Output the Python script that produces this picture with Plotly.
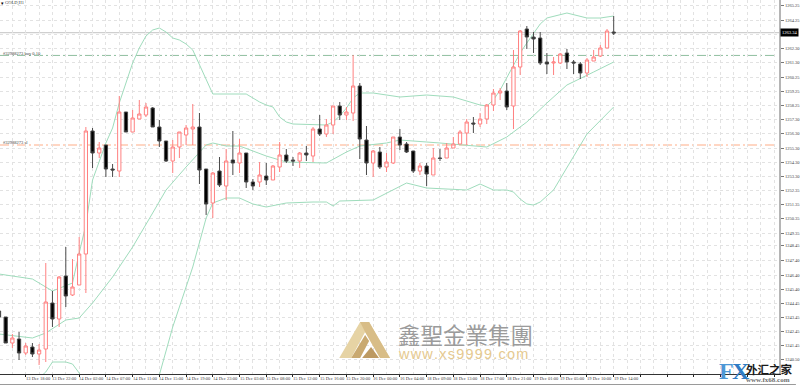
import plotly.graph_objects as go

# ---- candles (index -1 .. 91) ----
opens = [1243.89,1243.47,1241.65,1241.93,1240.95,1241.37,1240.88,1241.23,1244.45,1243.33,1246.34,1245.01,1245.71,1247.88,
 1256.49,1254.95,1255.51,1253.83,1253.69,1257.82,1256.42,1257.33,1257.61,1258.10,1256.77,1255.79,1254.39,1255.37,1256.21,
 1256.63,1256.77,1253.83,1251.45,1253.69,1252.64,1254.46,1254.25,1254.95,1252.92,1252.92,1253.34,1253.06,1253.97,1254.81,
 1254.46,1254.39,1254.95,1254.74,1256.63,1256.28,1256.91,1258.24,1257.61,1257.75,1259.64,1255.86,1254.25,1255.02,1253.97,
 1254.25,1256.07,1255.58,1255.09,1253.69,1254.04,1253.41,1254.60,1254.60,1255.30,1255.58,1256.35,1257.05,1256.98,1257.33,
 1258.31,1259.15,1259.29,1258.24,1260.97,1263.63,1263.07,1263.00,1261.32,1261.25,1261.25,1261.95,1261.32,1261.18,1260.55,
 1261.39,1261.74,1262.30,1263.42]
closes = [1243.47,1241.65,1242.00,1240.95,1241.44,1240.88,1241.16,1244.52,1243.33,1246.27,1244.94,1245.57,1247.88,1256.49,
 1254.95,1255.30,1253.83,1253.76,1257.82,1256.42,1257.40,1257.68,1258.17,1256.77,1255.79,1254.39,1255.37,1256.42,1256.70,
 1256.77,1253.76,1251.38,1253.55,1252.71,1254.39,1254.25,1254.95,1252.92,1252.64,1253.41,1253.06,1254.04,1254.81,1254.39,
 1254.39,1254.95,1254.81,1256.63,1256.28,1256.91,1258.24,1257.61,1257.82,1259.64,1255.93,1254.25,1255.09,1253.97,1254.32,
 1256.07,1255.51,1255.02,1253.69,1254.04,1253.48,1254.60,1254.57,1255.30,1255.58,1256.42,1257.12,1256.98,1257.33,1258.31,
 1259.15,1259.29,1258.17,1260.97,1263.49,1263.07,1262.93,1261.25,1261.18,1261.32,1261.88,1261.32,1261.25,1260.55,1261.46,
 1261.67,1262.30,1263.49,1263.35]
highs = [1243.89,1243.47,1242.28,1242.42,1241.65,1241.65,1241.58,1247.25,1245.29,1246.34,1248.37,1247.53,1249.07,1256.77,
 1256.70,1255.72,1255.51,1254.18,1258.94,1257.82,1257.96,1258.66,1258.45,1258.17,1257.26,1255.79,1255.86,1256.42,1256.91,
 1258.38,1257.75,1253.83,1253.62,1254.67,1255.23,1256.49,1255.93,1254.95,1253.13,1254.32,1254.25,1254.11,1255.72,1255.23,
 1254.67,1255.02,1255.44,1256.77,1257.61,1257.33,1258.24,1258.52,1258.17,1261.81,1259.85,1256.84,1255.16,1255.37,1254.95,
 1256.07,1256.63,1255.72,1255.09,1254.25,1254.25,1255.30,1255.23,1255.65,1256.07,1256.56,1257.33,1257.47,1257.75,1258.38,
 1259.43,1259.50,1259.85,1262.16,1263.56,1263.84,1263.42,1263.42,1261.95,1261.67,1261.95,1262.23,1261.46,1261.32,1261.60,
 1262.16,1262.51,1263.63,1264.54]
lows = [1243.47,1241.65,1241.30,1240.46,1240.81,1240.67,1240.11,1240.32,1242.77,1242.77,1244.17,1244.94,1245.71,1245.15,
 1253.90,1254.60,1253.27,1253.27,1253.27,1256.42,1256.42,1257.33,1257.47,1256.77,1255.37,1254.32,1253.55,1254.60,1255.51,
 1255.51,1252.78,1250.61,1250.40,1252.57,1251.66,1253.41,1253.55,1252.50,1252.36,1252.57,1252.71,1253.06,1253.62,1254.25,
 1254.04,1253.90,1254.39,1254.32,1256.14,1256.07,1256.28,1257.26,1257.26,1257.19,1254.53,1253.41,1253.27,1253.83,1253.62,
 1254.18,1255.16,1254.95,1253.55,1253.41,1252.64,1253.41,1254.39,1254.60,1255.30,1255.58,1255.51,1256.35,1256.77,1256.98,
 1257.89,1258.66,1257.96,1256.63,1260.41,1262.23,1261.95,1261.11,1260.48,1260.41,1261.18,1260.83,1260.48,1260.13,1260.27,
 1261.39,1261.67,1262.30,1263.21]
candle_index = list(range(-1, 92))

# ---- Bollinger bands ----
upper_index = [-1,4,7,10,11,12,13,14,15,16,17,18,19,20,21,22,23,24,25,26,27,28,29,30,31,36,37,38,39,40,41,42,43,46,48,49,50,51,52,53,55,59,63,67,71,72,73,74,76,77,78,79,80,81,84,87,89,91]
upper_values = [1246.48,1246.13,1245.29,1245.85,1247.95,1249.91,1253.06,1254.32,1255.65,1256.70,1258.45,1259.85,1261.25,1262.30,1263.14,1263.56,1263.70,1263.42,1263.00,1262.86,1262.58,1262.16,1261.11,1260.06,1259.08,1259.08,1258.80,1258.52,1258.31,1258.17,1257.47,1257.12,1256.98,1256.91,1256.91,1257.12,1257.54,1258.10,1258.80,1259.15,1259.15,1258.87,1259.01,1258.87,1258.31,1258.24,1258.66,1259.36,1261.11,1261.95,1262.65,1263.35,1263.98,1264.40,1264.75,1264.40,1264.40,1264.54]
middle_index = [-1,4,6,9,11,13,16,19,22,24,27,30,31,33,35,39,42,48,51,53,57,59,65,69,72,75,78,81,84,88,91]
middle_values = [1242.28,1242.00,1242.35,1243.26,1243.40,1244.45,1246.27,1248.37,1250.75,1252.36,1253.97,1255.51,1255.65,1255.44,1255.44,1254.74,1254.32,1254.25,1255.02,1255.44,1255.65,1255.86,1255.65,1255.51,1255.37,1256.07,1257.12,1258.45,1259.71,1260.62,1261.32]
lower_index = [5,6,7,9,10,11,12,18,23,25,28,30,31,33,35,37,39,42,46,48,49,50,55,58,60,63,69,71,73,75,76,77,78,79,80,82,87,91]
lower_values = [1239.20,1239.62,1240.32,1240.32,1240.18,1239.55,1238.71,1234.86,1239.41,1242.77,1246.97,1250.40,1251.45,1251.80,1251.80,1251.38,1251.17,1251.45,1251.52,1251.52,1251.24,1251.59,1251.66,1252.36,1252.85,1252.50,1252.36,1252.78,1252.36,1252.36,1252.22,1251.73,1251.38,1251.31,1251.52,1252.36,1256.28,1258.17]

# ---- levels ----
current_price = 1263.38
current_label = "1263.34"
order_tp = 1261.78
order_sl = 1255.51

# ---- axes text ----
y_ticks = [1265.25,1264.25,1263.25,1262.30,1261.30,1260.25,1259.25,1258.25,1257.30,1256.30,1255.30,1254.30,1253.30,1252.35,1251.35,1250.35,1249.35,1248.45,1247.40,1246.40,1245.40,1244.45,1243.45,1242.45,1241.45,1240.50]
y_hidden_by_tag = 1263.25
x_tick_labels = ["13 Dec 2017","13 Dec 18:00","13 Dec 22:00","14 Dec 02:00","14 Dec 07:00","14 Dec 11:00","14 Dec 15:00","14 Dec 19:00","14 Dec 23:00","15 Dec 03:00","15 Dec 08:00","15 Dec 12:00","15 Dec 16:00","15 Dec 20:00","16 Dec 00:00","16 Dec 04:00","18 Dec 09:00","18 Dec 13:00","18 Dec 17:00","18 Dec 21:00","19 Dec 01:00","19 Dec 05:00","19 Dec 10:00","19 Dec 14:00"]
x_tick_index = [-1] + list(range(3, 92, 4))

# ---- page geometry ----
W, H = 800, 385
ML, MR, MT, MB = 0, 17, 0, 11
PW, PH = W - ML - MR, H - MT - MB
X_RANGE = [-0.85, 115.74]
Y_RANGE = [1239.48, 1265.66]
GRID = "#e2e2e2"
BAND = "#9fdcbc"
UP = "#ff8080"
DOWN = "#000000"
SMALL = 4.5
TXT = "#404040"
FONT = "Liberation Sans Narrow"

def px(x):
    return x / PW
def py(y):
    return (PH - y) / PH
def poly(points, color):
    path = "M " + " L ".join(f"{px(a):.5f},{py(b):.5f}" for a, b in points) + " Z"
    return dict(type="path", path=path, xref="paper", yref="paper", fillcolor=color, line=dict(width=0), layer="above")

fig = go.Figure()
for xs, ys in [(upper_index, upper_values), (middle_index, middle_values), (lower_index, lower_values)]:
    fig.add_trace(go.Scatter(x=xs, y=ys, mode="lines", line=dict(color=BAND, width=1), hoverinfo="skip", showlegend=False))

fig.add_trace(go.Candlestick(
    x=candle_index, open=opens, high=highs, low=lows, close=closes,
    xaxis="x2", yaxis="y2", whiskerwidth=0, showlegend=False,
    increasing=dict(line=dict(color=UP, width=1), fillcolor="#ffffff"),
    decreasing=dict(line=dict(color="#4a4a4a", width=1), fillcolor=DOWN),
))

shapes = [
    dict(type="line", xref="paper", yref="y", x0=0, x1=1, y0=current_price, y1=current_price,
         line=dict(color="#cfcfcf", width=1.3), layer="below"),
    dict(type="line", xref="paper", yref="y", x0=0, x1=0.996, y0=order_tp, y1=order_tp,
         line=dict(color="#8fbf9f", width=1, dash="9px,3px,2px,3px"), layer="below"),
    dict(type="line", xref="paper", yref="y", x0=0, x1=0.996, y0=order_sl, y1=order_sl,
         line=dict(color="#ffc9b0", width=1.6, dash="9px,3px,2px,3px"), layer="below"),
    # bottom page strip
    dict(type="line", xref="paper", yref="paper", x0=0, x1=W / PW, y0=py(384.5), y1=py(384.5),
         line=dict(color="#9a9a9a", width=1), layer="above"),
    # gold logo
    poly([(341, 358), (362, 322), (371, 322), (392, 358), (382, 358), (367, 332), (353, 358)], "#e6d3a4"),
    poly([(362, 322), (371, 322), (392, 358), (382, 358), (367, 332)], "#d8bd87"),
    poly([(353, 358), (367, 335), (371, 341), (362, 358)], "#c9a970"),
    poly([(364, 358), (373, 347), (381, 358)], "#bd9a62"),
]

ann = []
for i, label in zip(x_tick_index, x_tick_labels):
    ann.append(dict(x=i, xref="x", y=0, yref="paper", text=label, showarrow=False, xanchor="left", yanchor="top",
                    xshift=-3 if i < 0 else -1, yshift=-1, borderpad=0, font=dict(family=FONT, size=SMALL, color=TXT)))
def note(x, y, text, size, color, family=FONT, anchor="left"):
    ann.append(dict(x=px(x), xref="paper", y=py(y), yref="paper", text=text, showarrow=False, xanchor=anchor,
                    yanchor="middle", borderpad=0, font=dict(family=family, size=size, color=color)))
note(4, 3, "GOLD,H1", SMALL, TXT)
note(0.5, 3, "▾", 5, "#000000")
note(2, 53, "#32988273 buy 0.10", SMALL, TXT)
note(2, 142, "#32988273 sl", SMALL, TXT)
note(399, 333.5, "鑫聖金業集團", 22.5, "#9b9b9b", "Noto Sans CJK TC")
note(399, 354, "\u200a".join("www.xs9999.com"), 14.5, "#e5c98f", "Liberation Sans")
note(722, 371, "<b>F</b>", 24, "#4d97d6", "Liberation Sans Narrow")
note(734.5, 371, "<b>X</b>", 24, "#2f7cc4", "Liberation Sans Narrow")
note(748.5, 369, "<b>外汇之家</b>", 11.5, "#1a1a1a", "Noto Sans CJK SC")
note(749, 379.5, "<b>www.fx68.com</b>", 7, "#6e6e6e", "Liberation Serif")
ann.append(dict(x=1, xref="paper", xanchor="left", xshift=1, y=current_price, yref="y", yanchor="middle",
                text=current_label, showarrow=False, bgcolor="#000000", borderpad=1,
                font=dict(family=FONT, size=SMALL, color="#ffffff")))

axis_common = dict(showgrid=True, gridcolor=GRID, griddash="dot", gridwidth=1, zeroline=False)
fig.update_layout(
    width=W, height=H, margin=dict(l=ML, r=MR, t=MT, b=MB), paper_bgcolor="#ffffff", plot_bgcolor="#ffffff",
    showlegend=False, hovermode=False, shapes=shapes, annotations=ann,
    xaxis=dict(range=X_RANGE, tickmode="array", tickvals=x_tick_index + list(range(95, 116, 4)),
               showticklabels=False, ticks="outside", ticklen=2, tickcolor="#222222",
               showline=True, linecolor="#333333", linewidth=1,
               minor=dict(dtick=2, tick0=1, showgrid=True, gridcolor=GRID, griddash="dot", ticks=""),
               **axis_common),
    yaxis=dict(range=Y_RANGE, side="right", tickmode="array", tickvals=y_ticks,
               ticktext=["" if v == y_hidden_by_tag else f"{v:.2f}" for v in y_ticks], ticks="outside", ticklen=3, tickcolor="#777777",
               tickfont=dict(family=FONT, size=SMALL, color=TXT), showline=True, linecolor="#b5b5b5", linewidth=2,
               **axis_common),
    xaxis2=dict(range=X_RANGE, overlaying="x", visible=False, rangeslider=dict(visible=False)),
    yaxis2=dict(range=Y_RANGE, overlaying="y", visible=False),
)
fig.write_html("out.html", config={"displayModeBar": False},
               post_script="document.body.style.margin='0';document.body.style.overflow='hidden';")
